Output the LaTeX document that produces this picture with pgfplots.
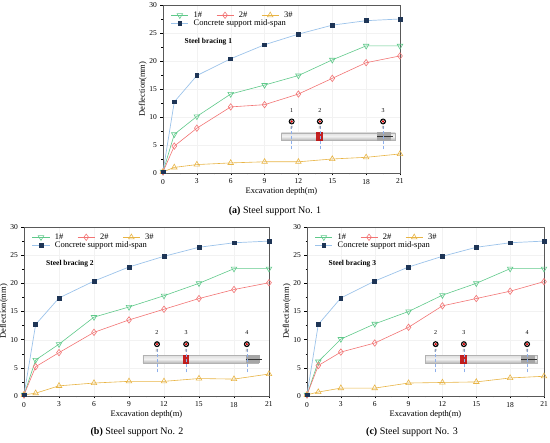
\documentclass[border=0pt]{standalone}
\usepackage{pgfplots}
\pgfplotsset{compat=1.18}
\usepackage{fontspec}
\setmainfont{Liberation Serif}
\definecolor{cG}{HTML}{5FC98A}
\definecolor{cR}{HTML}{F27474}
\definecolor{cY}{HTML}{E8B445}
\definecolor{cB}{HTML}{9CC3EA}
\definecolor{cN}{HTML}{1E3556}
\newcommand\beamsymbol[3]{% x, label
  \draw[densely dashed, cB!90!blue, line width=0.5pt] (axis cs:#1,4.2) -- (axis cs:#1,9.2);
  \fill[black] (axis cs:#1,9.2) circle[radius=3pt];
  \fill[white] (axis cs:#1,9.2) circle[radius=1.9pt];
  \fill[red!85!black] (axis cs:#1,9.2) circle[radius=1.3pt];
  \node[font=\fontsize{6}{6}\selectfont, inner sep=0pt] at (axis cs:#1,11.2) {#2};
  \node[font=\fontsize{5}{5}\selectfont, inner sep=0pt, gray] at (axis cs:#1,8.0) {\#};
}
\newcommand\inset[4]{% beam start, beam end, labels
  \shade[top color=gray!25, bottom color=gray!55, middle color=gray!10, draw=gray!60, line width=0.3pt] (axis cs:#1,5.9) rectangle (axis cs:#2,7.2);
  \fill[red!75!black, opacity=0.85] (axis cs:13.6,5.75) rectangle (axis cs:14.15,7.35);
  \fill[gray!70] (axis cs:19.0,5.8) rectangle (axis cs:20.2,7.3);
  \draw[gray!40!black, line width=0.3pt] (axis cs:19.0,6.55) -- (axis cs:20.4,6.55);
  \beamsymbol{11.4}{#3}{}
  \beamsymbol{13.9}{#4}{}
}
\pgfplotsset{
  myax/.style={
    scale only axis,
    anchor=south west,
    xmin=0, xmax=21, ymin=0, ymax=30,
    xtick={0,3,...,21}, ytick={0,5,...,30},
    tick align=outside, xtick pos=left, ytick pos=left,
    major tick length=2.5pt,
    minor x tick num=1, minor y tick num=1, minor tick length=1.5pt,
    tick style={black, line width=0.4pt},
    axis line style={gray!70!black, line width=0.5pt},
    grid=major, major grid style={gray!10, line width=0.3pt},
    ticklabel style={font=\fontsize{7.5}{8}\selectfont},
    /pgf/number format/assume math mode=true,
    label style={font=\fontsize{8.5}{9}\selectfont},
    xlabel={Excavation depth(m)}, ylabel={Deflection(mm)},
    xlabel style={yshift=3pt}, ylabel style={yshift=-4pt},
    clip=false,
    legend columns=3,
    legend cell align=left,
    legend style={at={(0.02,0.985)}, anchor=north west, draw=none, fill=none,
      font=\fontsize{8.5}{9.5}\selectfont, row sep=-3pt,
      /tikz/every odd column/.style={column sep=3pt},
      /tikz/every even column/.style={column sep=12pt}},
  },
  s1/.style={cG, line width=0.6pt, mark=triangle, mark size=3.2pt, mark options={rotate=180, fill=white, solid}},
  s2/.style={cR, line width=0.6pt, mark=diamond, mark size=3.2pt, mark options={fill=white, solid}},
  s3/.style={cY, line width=0.6pt, mark=triangle, mark size=3.2pt, mark options={fill=white, solid}},
  s4/.style={cB, line width=0.7pt, mark=square*, mark size=1.9pt, mark options={fill=cN, draw=cN, solid}},
}
\begin{document}
\begin{tikzpicture}
\path[use as bounding box] (0pt,0pt) rectangle (550pt,443pt);
% ---------- (a)
\begin{axis}[myax, at={(163pt,270pt)}, width=237pt, height=168pt]
\addplot[s1] coordinates {(0,0.2)(1,6.9)(3,10.1)(6,14.1)(9,15.7)(12,17.4)(15,20.2)(18,22.7)(21,22.7)};
\addlegendentry{1\#}
\addplot[s2] coordinates {(0,0.2)(1,4.8)(3,8.0)(6,11.8)(9,12.2)(12,14.1)(15,16.9)(18,19.7)(21,20.9)};
\addlegendentry{2\#}
\addplot[s3] coordinates {(0,0.2)(1,1.0)(3,1.5)(6,1.8)(9,2.0)(12,2.0)(15,2.5)(18,2.8)(21,3.4)};
\addlegendentry{3\#}
\addplot[s4] coordinates {(0,0.2)(1,12.7)(3,17.4)(6,20.4)(9,22.9)(12,24.8)(15,26.4)(18,27.2)(21,27.5)};
\addlegendentry{\makebox[0pt][l]{Concrete support mid-span}}
\node[anchor=west, font=\bfseries\fontsize{7.5}{8}\selectfont] at (axis cs:1.6,23.5) {Steel bracing 1};
\inset{10.5}{20.6}{1}{2}
\beamsymbol{19.5}{3}{}
\end{axis}
\node[font=\fontsize{10}{12}\selectfont] at (275pt,232pt) {\textbf{(a)} Steel support No. 1};
% ---------- (b)
\begin{axis}[myax, at={(24pt,47pt)}, width=245pt, height=169pt]
\addplot[s1] coordinates {(0,0.2)(1,6.4)(3,9.2)(6,14.0)(9,15.8)(12,17.8)(15,20.0)(18,22.6)(21,22.6)};
\addlegendentry{1\#}
\addplot[s2] coordinates {(0,0.2)(1,5.2)(3,7.7)(6,11.3)(9,13.5)(12,15.4)(15,17.3)(18,18.9)(21,20.1)};
\addlegendentry{2\#}
\addplot[s3] coordinates {(0,0.2)(1,0.5)(3,1.8)(6,2.3)(9,2.6)(12,2.6)(15,3.1)(18,3.0)(21,3.9)};
\addlegendentry{3\#}
\addplot[s4] coordinates {(0,0.2)(1,12.7)(3,17.4)(6,20.4)(9,22.9)(12,24.8)(15,26.4)(18,27.2)(21,27.5)};
\addlegendentry{\makebox[0pt][l]{Concrete support mid-span}}
\node[anchor=west, font=\bfseries\fontsize{7.5}{8}\selectfont] at (axis cs:1.6,23.5) {Steel bracing 2};
\inset{10.2}{20.1}{2}{3}
\beamsymbol{19.1}{4}{}
\end{axis}
\node[font=\fontsize{10}{12}\selectfont] at (137pt,11pt) {\textbf{(b)} Steel support No. 2};
% ---------- (c)
\begin{axis}[myax, at={(307pt,47pt)}, width=237pt, height=169pt]
\addplot[s1] coordinates {(0,0.2)(1,6.1)(3,10.1)(6,12.8)(9,15.0)(12,17.9)(15,20.0)(18,22.6)(21,22.6)};
\addlegendentry{1\#}
\addplot[s2] coordinates {(0,0.2)(1,5.4)(3,7.8)(6,9.4)(9,12.2)(12,16.0)(15,17.3)(18,18.6)(21,20.3)};
\addlegendentry{2\#}
\addplot[s3] coordinates {(0,0.2)(1,0.7)(3,1.4)(6,1.4)(9,2.3)(12,2.4)(15,2.5)(18,3.2)(21,3.5)};
\addlegendentry{3\#}
\addplot[s4] coordinates {(0,0.2)(1,12.7)(3,17.4)(6,20.4)(9,22.9)(12,24.8)(15,26.4)(18,27.2)(21,27.5)};
\addlegendentry{\makebox[0pt][l]{Concrete support mid-span}}
\node[anchor=west, font=\bfseries\fontsize{7.5}{8}\selectfont] at (axis cs:1.6,23.5) {Steel bracing 3};
\inset{10.5}{20.4}{2}{3}
\beamsymbol{19.5}{4}{}
\end{axis}
\node[font=\fontsize{10}{12}\selectfont] at (412pt,11pt) {\textbf{(c)} Steel support No. 3};
\end{tikzpicture}
\end{document}
